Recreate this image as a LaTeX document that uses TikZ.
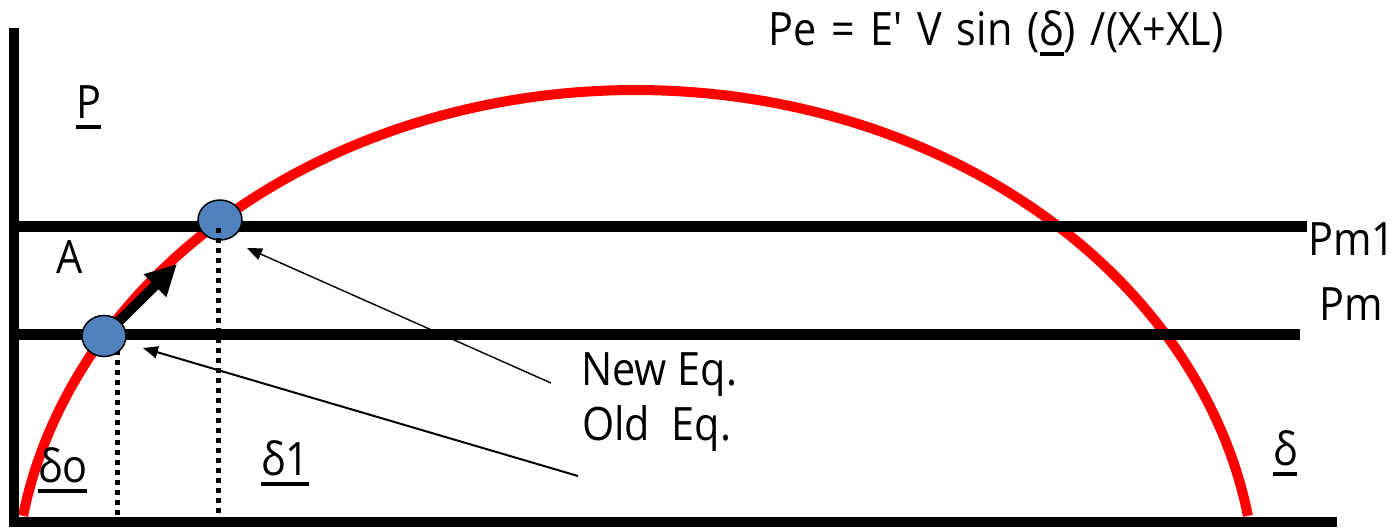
\documentclass[tikz,border=0pt]{standalone}
\usepackage{fontspec}
\setmainfont[FakeStretch=0.9]{Open Sans}
\usetikzlibrary{arrows.meta,shapes.geometric}
\newcommand\myul[2][7pt]{\setbox0\hbox{#2}\rlap{\vrule height -#1 depth \dimexpr#1+3.5pt\relax width \wd0}\box0}
\definecolor{eqblue}{HTML}{4F81BD}
\begin{document}
\begin{tikzpicture}[x=1pt,y=-1pt,
  axisline/.style={line width=10pt},
  levelline/.style={line width=11pt},
  curveline/.style={line width=10pt, draw=red},
  dotline/.style={line width=5pt, dash pattern=on 5pt off 5pt},
  eqdot/.style={shape=ellipse, draw=black, line width=1.5pt, fill=eqblue, inner sep=0pt, minimum width=44pt, minimum height=41pt},
  thinarrow/.style={-{Triangle[length=15pt,width=12pt]}},
  lbl/.style={font=\fontsize{46}{52}\selectfont, inner sep=0pt, anchor=base west}]
\useasboundingbox (0,0) rectangle (1397,528);
% curve
\draw[curveline] plot[domain=170.5:9.5, samples=150, smooth] ({635.5+621*cos(\x)},{600-510*sin(\x)});
% axes and levels
\coordinate (yaxtop) at (13.5,28);
\coordinate (yaxbot) at (13.5,527);
\coordinate (xaxl) at (8.5,522);
\coordinate (xaxr) at (1337,522);
\draw[axisline] (yaxtop) -- (yaxbot);
\draw[axisline] (xaxl) -- (xaxr);
\coordinate (pm1l) at (18,226.5);
\coordinate (pm1r) at (1307,226.5);
\coordinate (pml) at (18,334.5);
\coordinate (pmr) at (1300,334.5);
\draw[levelline] (pm1l) -- (pm1r);
\draw[levelline] (pml) -- (pmr);
% lower dotted line
\coordinate (d0top) at (117,340);
\coordinate (d0bot) at (117,518);
\draw[dotline] (d0top) -- (d0bot);
% thick arrow
\coordinate (c0c) at (104,336);
\coordinate (tipA) at (177,264);
\draw[line width=10pt, -{Triangle[length=31pt,width=30pt]}] (c0c) -- (tipA);
% equilibrium dots
\node[eqdot] (c0) at (104,336) {};
\node[eqdot, minimum height=40pt] (c1) at (220,220) {};
% upper dotted line
\coordinate (d1top) at (218,228);
\coordinate (d1bot) at (218,518);
\draw[dotline] (d1top) -- (d1bot);
% labels
\node[lbl] (title) at (768,45) {\spaceskip=15pt Pe = E′ V sin (\myul{δ}) /(X+XL)};
\node[lbl] (lP) at (76,118) {\myul{P}};
\node[lbl] (lA) at (56,273) {A};
\node[lbl] (lPm1) at (1308,255) {Pm1};
\node[lbl] (lPm) at (1319,320) {Pm};
\node[lbl] (lnew) at (581,385) {New Eq.};
\node[lbl] (lold) at (582,440) {Old\ \ Eq.};
\node[lbl] (ldo) at (38,482) {\myul{δo}};
\node[lbl] (ld1) at (261,475) {\myul{δ1}};
\node[lbl] (ld) at (1273,465) {\myul{δ}};
% thin arrows
\coordinate (newtail) at (551,383);
\coordinate (newtip) at (247,248);
\coordinate (oldtail) at (578,476);
\coordinate (oldtip) at (143,348);
\draw[thinarrow, line width=1.4pt] (newtail) -- (newtip);
\draw[thinarrow, line width=2pt] (oldtail) -- (oldtip);
\end{tikzpicture}
\end{document}
